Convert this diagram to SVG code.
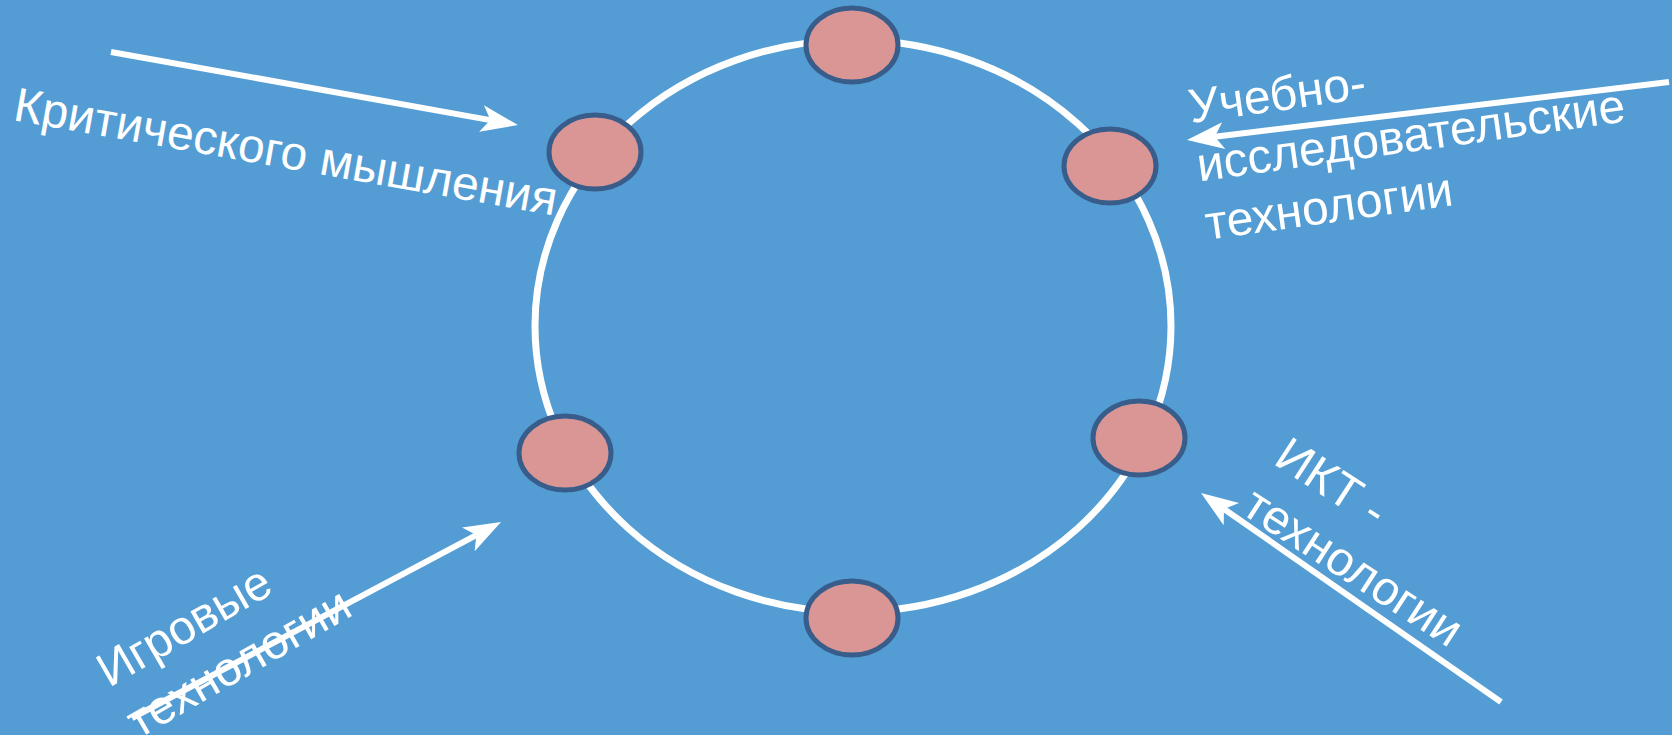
<svg xmlns="http://www.w3.org/2000/svg" width="1672" height="735" viewBox="0 0 1672 735">
<defs>
<style>
.bg{fill:#539DD4}
.ring{fill:none;stroke:#FFFFFF;stroke-width:7}
.node{fill:#D99694;stroke:#385D8A;stroke-width:5}
.arr{fill:none;stroke:#FFFFFF;stroke-width:6;marker-end:url(#head)}
.lbl{font-family:"Liberation Sans",Arial,sans-serif;font-size:48px;fill:#FFFFFF}
</style>
<marker id="head" markerUnits="userSpaceOnUse" viewBox="-40 -16 42 32" markerWidth="42" markerHeight="32" refX="-28" refY="0" orient="auto">
<path d="M0,0 L-37,-13.5 L-28,0 L-37,13.5 Z" fill="#FFFFFF"/>
</marker>
</defs>
<rect class="bg" x="0" y="0" width="1672" height="735"/>
<g id="ring">
<ellipse class="ring" cx="853" cy="326" rx="318" ry="286"/>
</g>
<g id="connectors">
<line class="arr" x1="111" y1="52" x2="490.4" y2="120.1"/>
<line class="arr" x1="1669" y1="82" x2="1214.8" y2="136.7"/>
<line class="arr" x1="132" y1="718" x2="476.3" y2="535.1"/>
<line class="arr" x1="1501" y1="702" x2="1224" y2="509"/>
</g>
<g id="node-top"><ellipse class="node" cx="852" cy="45" rx="46" ry="37"/></g>
<g id="node-left-up"><ellipse class="node" cx="595" cy="152" rx="46" ry="37"/></g>
<g id="node-right-up"><ellipse class="node" cx="1110" cy="166" rx="46" ry="37"/></g>
<g id="node-left-down"><ellipse class="node" cx="565" cy="453" rx="46" ry="37"/></g>
<g id="node-right-down"><ellipse class="node" cx="1139" cy="438" rx="46" ry="37"/></g>
<g id="node-bottom"><ellipse class="node" cx="852" cy="618" rx="46" ry="37"/></g>
<g id="label-critical">
<text class="lbl" transform="translate(12,120) rotate(10)">Критического мышления</text>
</g>
<g id="label-research">
<text class="lbl" transform="translate(1191,123) rotate(-8)"><tspan x="0" y="0">Учебно-</tspan><tspan x="0" dy="59">исследовательские</tspan><tspan x="0" dy="59">технологии</tspan></text>
</g>
<g id="label-game">
<text class="lbl" transform="translate(109,688) rotate(-30)"><tspan x="0" y="0">Игровые</tspan><tspan x="0" dy="59">технологии</tspan></text>
</g>
<g id="label-ict">
<text class="lbl" transform="translate(1272,463) rotate(33)"><tspan x="0" y="0">ИКТ -</tspan><tspan x="0" dy="59">технологии</tspan></text>
</g>
</svg>
